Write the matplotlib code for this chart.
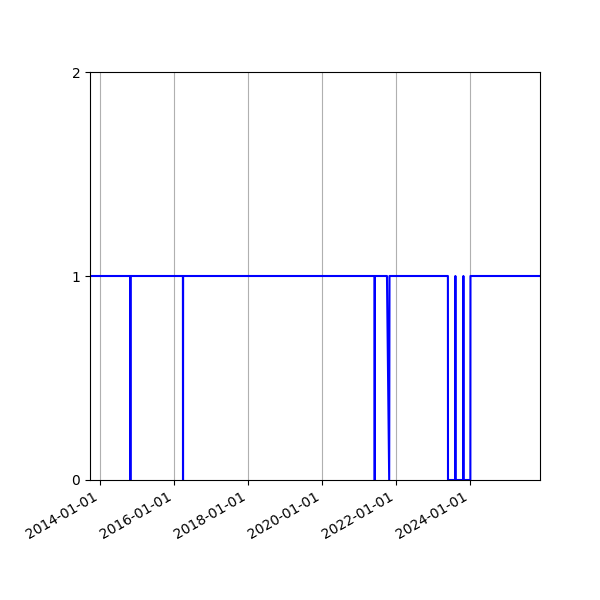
import matplotlib
matplotlib.use("Agg")
import matplotlib.pyplot as plt
import matplotlib.dates as mdates
import pandas as pd

# step-like 0/1 series
dates = [
    "2013-09-24",
    "2014-10-27", "2014-10-28", "2014-10-29",
    "2016-03-30", "2016-03-31", "2016-04-01",
    "2021-06-06", "2021-06-07", "2021-06-08",
    "2021-10-06", "2021-10-28", "2021-10-31",
    "2023-05-31", "2023-06-01",
    "2023-08-12", "2023-08-13", "2023-08-14",
    "2023-10-30", "2023-10-31", "2023-11-01",
    "2024-01-08", "2024-01-09",
    "2025-11-26",
]
values = [
    1,
    1, 0, 1,
    1, 0, 1,
    1, 0, 1,
    1, 0, 1,
    1, 0,
    0, 1, 0,
    0, 1, 0,
    0, 1,
    1,
]

x = pd.to_datetime(dates)

fig, ax = plt.subplots(figsize=(6, 6), dpi=100)
fig.subplots_adjust(left=0.15, right=0.9, top=0.88, bottom=0.2)

ax.plot(x, values, color="blue", linewidth=1.5)

ax.set_xlim(x[0], x[-1])
ax.set_ylim(0, 2)
ax.set_yticks([0, 1, 2])
ax.xaxis.set_major_locator(mdates.YearLocator(2))
ax.xaxis.set_major_formatter(mdates.DateFormatter("%Y-%m-%d"))
ax.grid(axis="x", color="#b0b0b0")
fig.autofmt_xdate()

fig.savefig("out.png")
